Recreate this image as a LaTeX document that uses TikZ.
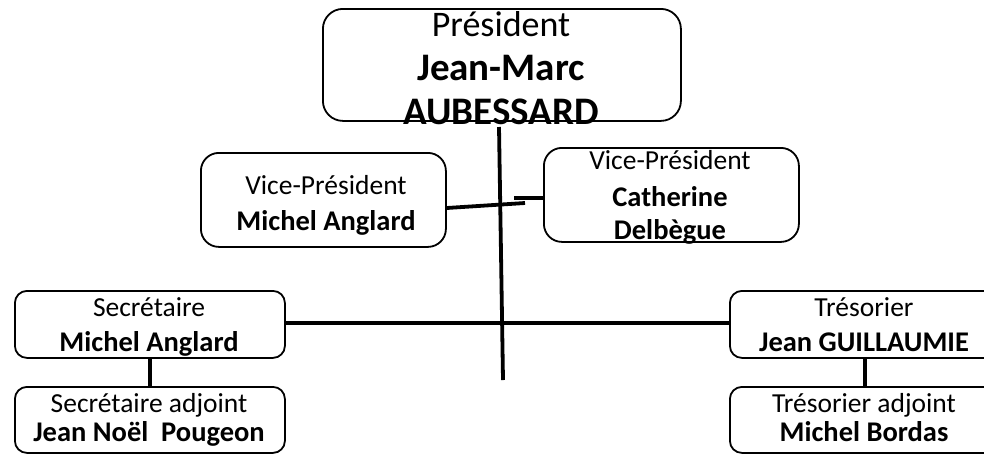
\documentclass[tikz,border=0pt]{standalone}
\usepackage{fontspec}
\setmainfont{Carlito}
\begin{document}
\begin{tikzpicture}[x=1pt,y=-1pt,
  boxst/.style={draw=black,line width=1.8pt,rounded corners=#1,inner sep=0pt,anchor=north west},
  boxst/.default=14pt,
  txtbig/.style={font=\fontsize{36}{40}\selectfont,anchor=base,inner sep=0pt},
  txtbigb/.style={font=\fontsize{39}{44}\selectfont\bfseries,anchor=base,inner sep=0pt},
  txt/.style={font=\fontsize{27.5}{30}\selectfont,anchor=base,inner sep=0pt},
  txtb/.style={font=\fontsize{28.5}{30}\selectfont\bfseries,anchor=base,inner sep=0pt},
  conn/.style={line width=3.8pt}]
\useasboundingbox (0,0) rectangle (984,453);
\clip (0,0) rectangle (984,453);
% boxes
\node[boxst=20pt,minimum width=358pt,minimum height=112pt] (pres) at (322,8) {};
\node[boxst=18pt,minimum width=245pt,minimum height=94pt] (vpl) at (200,152) {};
\node[boxst=18pt,minimum width=255pt,minimum height=94pt] (vpr) at (543,147) {};
\node[boxst=12pt,minimum width=270pt,minimum height=67pt] (sec) at (14,290) {};
\node[boxst=12pt,minimum width=270pt,minimum height=66pt] (seca) at (14,386) {};
\node[boxst=12pt,minimum width=270pt,minimum height=67pt] (tre) at (729,290) {};
\node[boxst=12pt,minimum width=270pt,minimum height=66pt] (trea) at (729,386) {};
% connectors
\coordinate (vtop) at (499,127);
\coordinate (vend) at (503,380);
\coordinate (lend) at (525,203);
\coordinate (sstart) at (514,198);
\draw[conn] (vtop) -- (vend);
\draw[conn] (vpl.east |- 0,208) -- (lend);
\draw[conn] (sstart) -- (vpr.west |- 0,198);
\draw[conn] (sec.east |- 0,323) -- (tre.west |- 0,323);
\draw[conn] (sec.south) -- (seca.north);
\draw[conn] (tre.south) -- (trea.north);
% texts
\node[txtbig] (t1) at (501,36) {Président};
\node[txtbigb] (t2) at (501,80) {Jean-Marc};
\node[txtbigb] (t3) at (501,124) {AUBESSARD};
\node[txt] (t4) at (326,194) {Vice-Président};
\node[txtb] (t5) at (326,230) {Michel Anglard};
\node[txt] (t6) at (670,169) {Vice-Président};
\node[txtb] (t7) at (670,206) {Catherine};
\node[txtb] (t8) at (670,239) {Delbègue};
\node[txt] (t9) at (149,316) {Secrétaire};
\node[txtb] (t10) at (149,351) {Michel Anglard};
\node[txt] (t11) at (149,412) {Secrétaire adjoint};
\node[txtb] (t12) at (149,441) {Jean Noël\ \ Pougeon};
\node[txt] (t13) at (864,316) {Trésorier};
\node[txtb] (t14) at (864,351) {Jean GUILLAUMIE};
\node[txt] (t15) at (864,412) {Trésorier adjoint};
\node[txtb] (t16) at (864,441) {Michel Bordas};
\end{tikzpicture}
\end{document}
